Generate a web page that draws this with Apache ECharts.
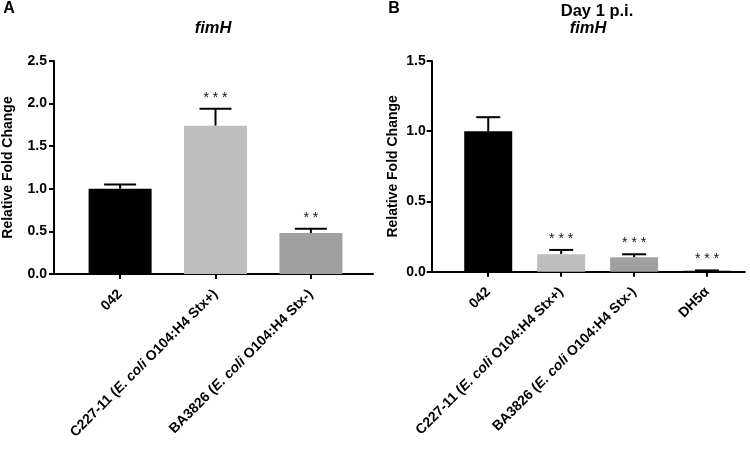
<!DOCTYPE html>
<html>
<head>
<meta charset="utf-8">
<script src="https://cdn.jsdelivr.net/npm/echarts@6/dist/echarts.min.js"></script>
<style>html,body{margin:0;padding:0;background:#fff;}#c{width:750px;height:453px;}</style>
</head>
<body>
<div id="c"></div>
<script>
// ---- data ----
const categoriesA = ['042', 'C227-11 (E. coli O104:H4 Stx+)', 'BA3826 (E. coli O104:H4 Stx-)'];
const meansA = [1.0, 1.74, 0.48];
const errA = [0.05, 0.20, 0.05];
const starsA = ['', '***', '**'];
const yTicksA = [0, 0.5, 1.0, 1.5, 2.0, 2.5];

const categoriesB = ['042', 'C227-11 (E. coli O104:H4 Stx+)', 'BA3826 (E. coli O104:H4 Stx-)', 'DH5α'];
const meansB = [1.0, 0.125, 0.102, 0.006];
const errB = [0.10, 0.03, 0.022, 0.003];
const starsB = ['', '***', '***', '***'];
const yTicksB = [0, 0.5, 1.0, 1.5];

// ---- styles ----
const FONT = "'Liberation Sans', Arial, sans-serif";
const barColors = ['#000000', '#bebebe', '#a0a0a0', '#000000'];

const chart = echarts.init(document.getElementById('c'));

function fmtCat(cats) {
  return function (v) {
    const s = cats[Math.round(v)] || '';
    return s.replace('E. coli', '{i|E. coli}');
  };
}

function xAxis(gridIndex, min, max, cats) {
  const idx = cats.map((_, i) => i);
  return {
    type: 'value', gridIndex, min, max,
    axisLine: { onZero: false, lineStyle: { color: '#000', width: 2 } },
    axisTick: { show: true, customValues: idx, length: 5, lineStyle: { color: '#000', width: 2 } },
    axisLabel: {
      customValues: idx, rotate: 45, margin: 18, color: '#000',
      fontFamily: FONT, fontWeight: 'bold', fontSize: 14,
      formatter: fmtCat(cats),
      rich: { i: { fontStyle: 'italic', fontWeight: 'bold', fontSize: 14, fontFamily: FONT, color: '#000' } }
    },
    splitLine: { show: false }
  };
}

function yAxis(gridIndex, ticks, nameGap, labelMargin) {
  return {
    type: 'value', gridIndex,
    min: ticks[0], max: ticks[ticks.length - 1], interval: ticks[1] - ticks[0],
    name: 'Relative Fold Change', nameLocation: 'middle', nameGap,
    nameTextStyle: { fontFamily: FONT, fontWeight: 'bold', fontSize: 14, color: '#000' },
    axisLine: { show: true, onZero: false, lineStyle: { color: '#000', width: 2 } },
    axisTick: { show: true, length: 5, lineStyle: { color: '#000', width: 2 } },
    axisLabel: {
      margin: labelMargin, color: '#000', fontFamily: FONT, fontWeight: 'bold', fontSize: 14,
      formatter: v => v.toFixed(1)
    },
    splitLine: { show: false }
  };
}

function barSeries(axisIdx, means, barWidth) {
  return {
    type: 'bar', xAxisIndex: axisIdx, yAxisIndex: axisIdx, barWidth,
    data: means.map((m, i) => ({ value: [i, m], itemStyle: { color: barColors[i] } })),
    silent: true, animation: false
  };
}

function errSeries(axisIdx, means, errs, stars, capW) {
  return {
    type: 'custom', xAxisIndex: axisIdx, yAxisIndex: axisIdx,
    data: means.map((m, i) => [i, m, errs[i]]),
    animation: false, silent: true, clip: false,
    renderItem: function (params, api) {
      const x = api.value(0), m = api.value(1), e = api.value(2);
      const p0 = api.coord([x, m]);
      const p1 = api.coord([x, m + e]);
      const st = { stroke: '#000', lineWidth: 2 };
      return {
        type: 'group',
        children: [
          { type: 'line', shape: { x1: p0[0], y1: p0[1], x2: p1[0], y2: p1[1] }, style: st },
          { type: 'line', shape: { x1: p1[0] - capW / 2, y1: p1[1], x2: p1[0] + capW / 2, y2: p1[1] }, style: st },
          {
            type: 'text',
            style: {
              text: stars[params.dataIndex].split('').join(' '),
              x: p1[0], y: p1[1] - 4,
              align: 'center', verticalAlign: 'bottom',
              fontFamily: FONT, fontSize: 14, fill: '#111'
            }
          }
        ]
      };
    }
  };
}

function label(t, x, y, size, italic) {
  return {
    type: 'text', x, y, silent: true,
    style: { text: t, fontFamily: FONT, fontWeight: 'bold', fontStyle: italic ? 'italic' : 'normal',
             fontSize: size, fill: '#000', align: 'center', verticalAlign: 'middle' }
  };
}

chart.setOption({
  animation: false,
  backgroundColor: '#fff',
  grid: [
    { left: 52, top: 61, width: 321, height: 213, containLabel: false },
    { left: 431.7, top: 61, width: 313, height: 210.7, containLabel: false }
  ],
  xAxis: [
    xAxis(0, -0.693, 2.651, categoriesA),
    xAxis(1, -0.775, 3.516, categoriesB)
  ],
  yAxis: [
    yAxis(0, yTicksA, 39, 7),
    yAxis(1, yTicksB, 32, 6)
  ],
  series: [
    barSeries(0, meansA, 63),
    errSeries(0, meansA, errA, starsA, 32),
    barSeries(1, meansB, 48),
    errSeries(1, meansB, errB, starsB, 24)
  ],
  graphic: [
    label('A', 9, 9, 16, false),
    label('B', 394, 9, 16, false),
    label('fimH', 213, 28, 16.5, true),
    label('Day 1 p.i.', 597, 11, 16.5, false),
    label('fimH', 588, 28, 16.5, true)
  ]
});
</script>
</body>
</html>
